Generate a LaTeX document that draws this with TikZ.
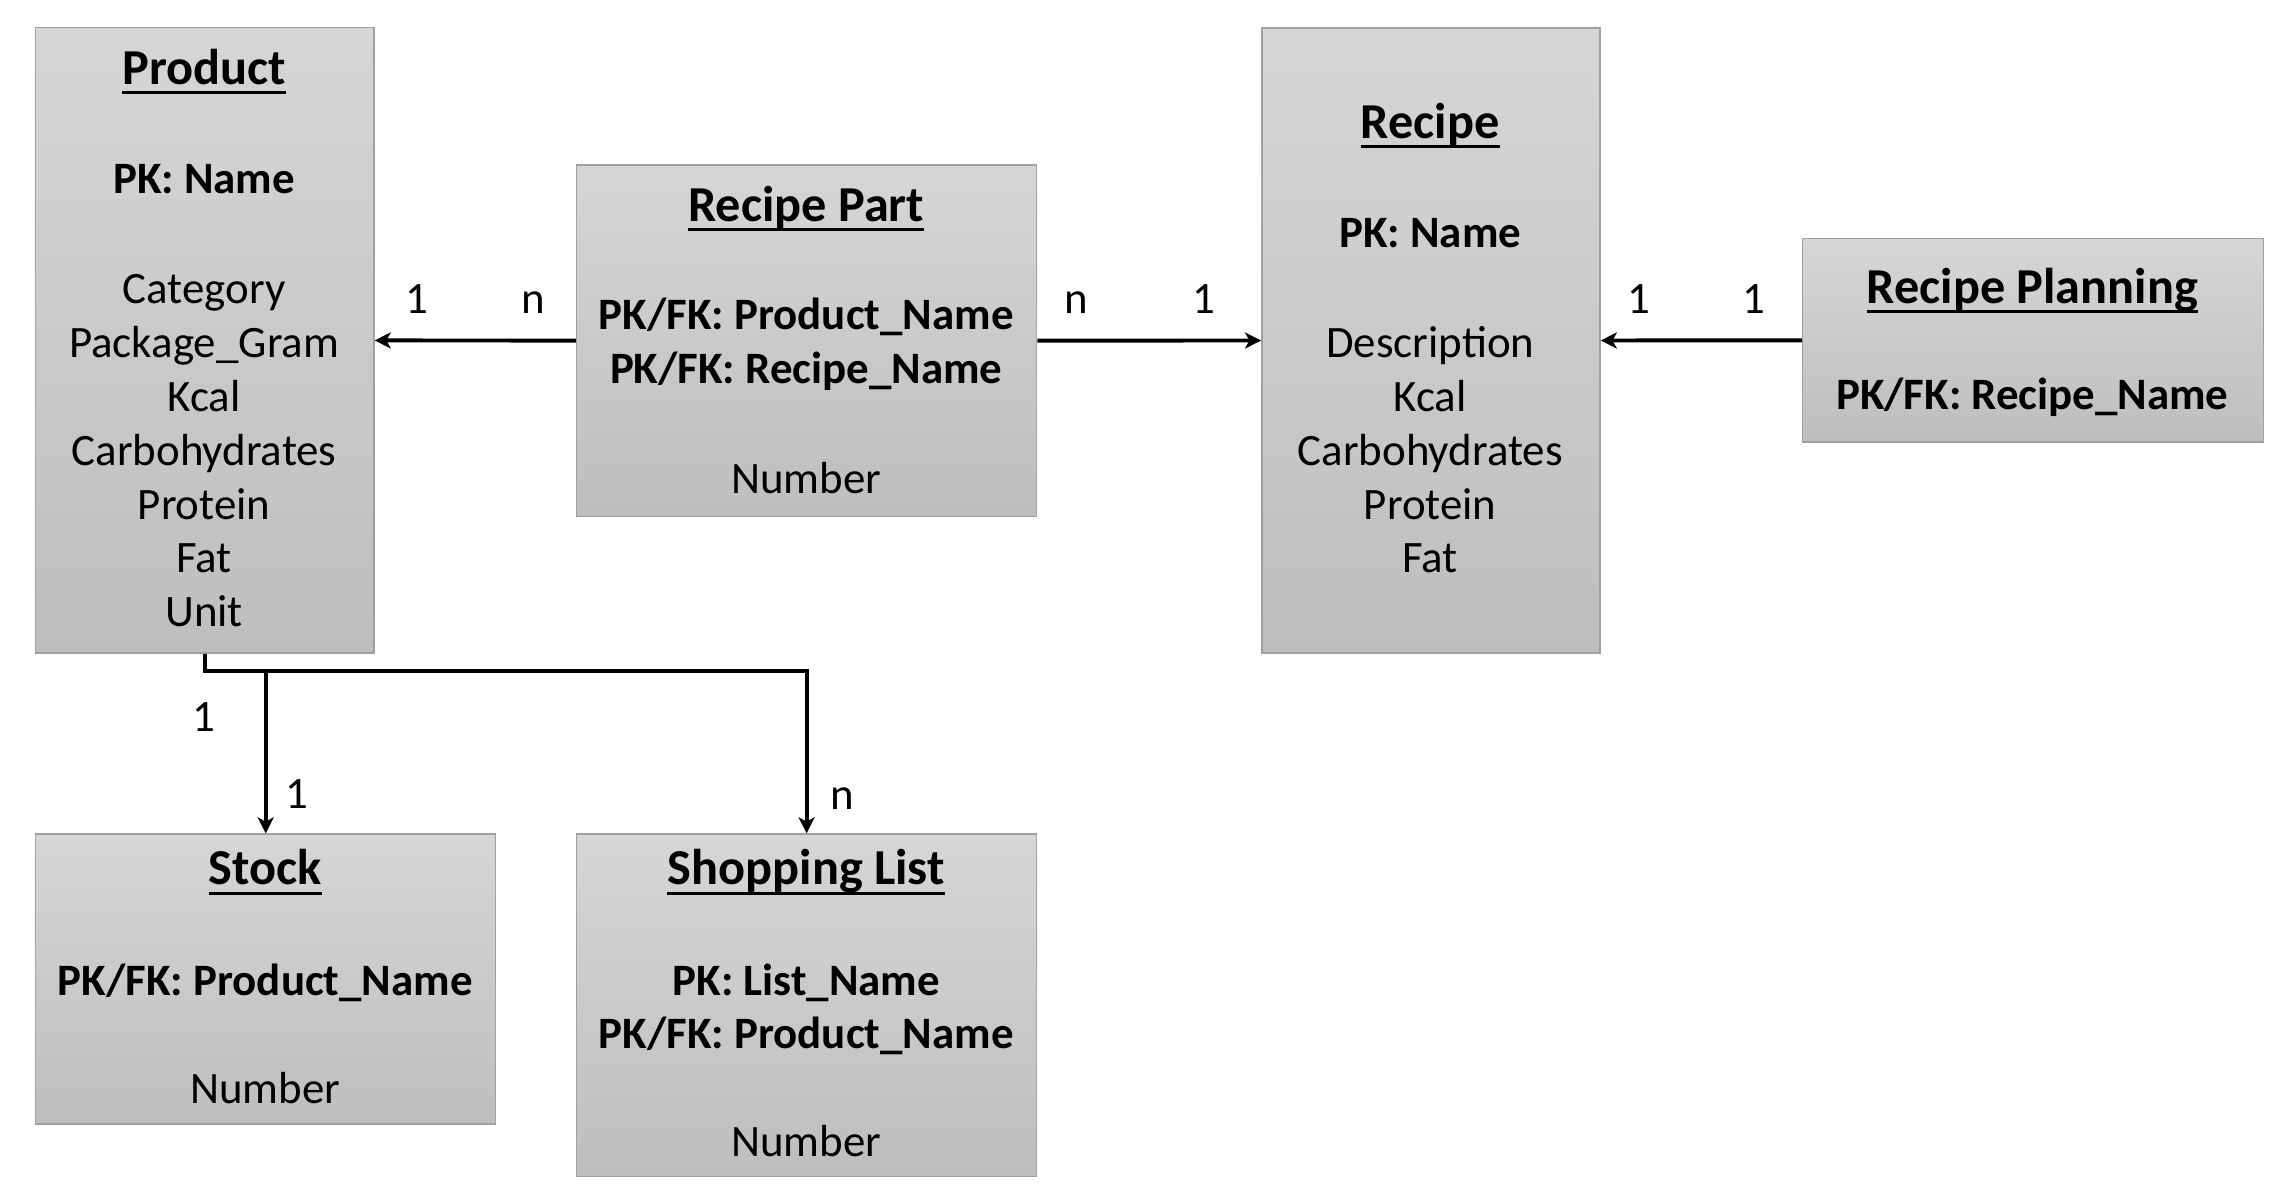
\documentclass[tikz,border=0pt]{standalone}
\usepackage{fontspec}
\setmainfont{Carlito}
\usetikzlibrary{arrows.meta,calc}
\definecolor{boxtop}{RGB}{214,214,214}
\definecolor{boxbot}{RGB}{190,190,190}
\definecolor{boxline}{RGB}{160,160,160}
\tikzset{
  ent/.style={draw=boxline, line width=1pt, top color=boxtop, bottom color=boxbot,
    inner sep=0pt, anchor=north west},
  body/.style={inner sep=0pt, anchor=base, font=\fontsize{30.8}{36}\selectfont},
  keyf/.style={body, font=\fontsize{30.8}{36}\selectfont\bfseries},
  ttl/.style={inner sep=0pt, anchor=base, font=\fontsize{34.5}{41}\selectfont\bfseries},
  card/.style={body},
  conn/.style={line width=2.7pt, -{Stealth[length=11pt,width=11pt,inset=3pt]}},
  uln/.style={line width=2.2pt},
}
\newcommand{\ul}[1]{\draw[uln] ([yshift=-5.6pt]#1.base west) -- ([yshift=-5.6pt]#1.base east);}
\begin{document}
\begin{tikzpicture}[x=1pt,y=-1pt]
\fill[white] (0,0) rectangle (1568,820.3);
\useasboundingbox (0,0) rectangle (1568,820.3);

% boxes
\node[ent, minimum width=232pt, minimum height=429pt] (product) at (24,18.5) {};
\node[ent, minimum width=315.5pt, minimum height=241pt] (rpart) at (395,112.6) {};
\node[ent, minimum width=232pt, minimum height=428.5pt] (recipe) at (865,18.8) {};
\node[ent, minimum width=316pt, minimum height=139.8pt] (rplan) at (1236,163) {};
\node[ent, minimum width=315.5pt, minimum height=199pt] (stock) at (24,571.6) {};
\node[ent, minimum width=315.5pt, minimum height=235pt] (shop) at (395,571.6) {};

% Product
\node[ttl] (pt) at (140,58) {Product}; \ul{pt}
\node[keyf] (pk1) at (140,133) {PK: Name};
\node[body] (pa1) at (140,208) {Category};
\node[body] (pa2) at (140,245) {Package\_Gram};
\node[body] (pa3) at (140,282) {Kcal};
\node[body] (pa4) at (140,319) {Carbohydrates};
\node[body] (pa5) at (140,356) {Protein};
\node[body] (pa6) at (140,393) {Fat};
\node[body] (pa7) at (140,430) {Unit};

% Recipe Part
\node[ttl] (rpt) at (553,151.6) {Recipe Part}; \ul{rpt}
\node[keyf] (rpk1) at (553,226) {PK/FK: Product\_Name};
\node[keyf] (rpk2) at (553,263) {PK/FK: Recipe\_Name};
\node[body] (rpa1) at (553,338.3) {Number};

% Recipe
\node[ttl] (rt) at (981,95) {Recipe}; \ul{rt}
\node[keyf] (rk1) at (981,169.5) {PK: Name};
\node[body] (ra1) at (981,245) {Description};
\node[body] (ra2) at (981,282) {Kcal};
\node[body] (ra3) at (981,319) {Carbohydrates};
\node[body] (ra4) at (981,356) {Protein};
\node[body] (ra5) at (981,393) {Fat};

% Recipe Planning
\node[ttl] (plt) at (1394,208) {Recipe Planning}; \ul{plt}
\node[keyf] (plk1) at (1394,281) {PK/FK: Recipe\_Name};

% Stock
\node[ttl] (st) at (182,607) {Stock}; \ul{st}
\node[keyf] (sk1) at (182,682.6) {PK/FK: Product\_Name};
\node[body] (sa1) at (182,757) {Number};

% Shopping List
\node[ttl] (slt) at (553,607) {Shopping List}; \ul{slt}
\node[keyf] (slk1) at (553,682.6) {PK: List\_Name};
\node[keyf] (slk2) at (553,719) {PK/FK: Product\_Name};
\node[body] (sla1) at (553,793.4) {Number};

% connectors
\draw[conn] (rpart.west) -- (product.east);
\draw[conn] (rpart.east) -- (recipe.west);
\draw[conn] (rplan.west) -- (recipe.east);
\coordinate (hub) at ($(product.south)+(0,12)$);
\draw[conn] (product.south) -- (hub) -| (shop.north);
\draw[conn] (stock.north |- hub) -- (stock.north);

% cardinalities
\node[card] (c1) at (286,215) {1};
\node[card] (c2) at (365.6,215) {n};
\node[card] (c3) at (738.5,215) {n};
\node[card] (c4) at (825.5,215) {1};
\node[card] (c5) at (1124,215) {1};
\node[card] (c6) at (1203,215) {1};
\node[card] (c7) at (139.5,502) {1};
\node[card] (c8) at (203.5,554.5) {1};
\node[card] (c9) at (577.4,555.4) {n};
\end{tikzpicture}
\end{document}
